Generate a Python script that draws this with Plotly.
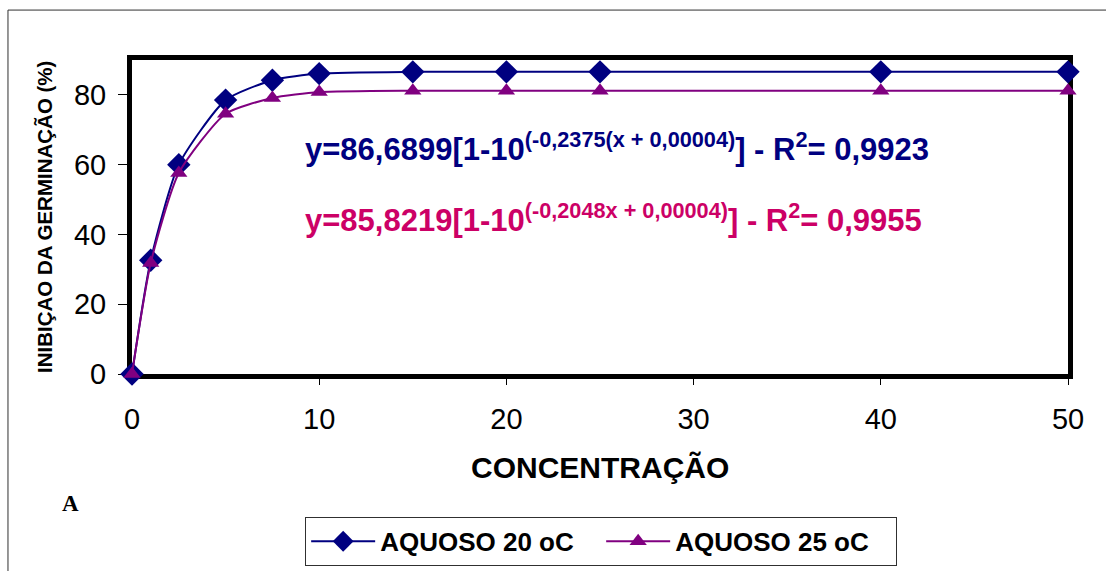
import plotly.graph_objects as go

# Concentration levels and germination inhibition (%) for the aqueous extract
concentracao = [0, 1, 2.5, 5, 7.5, 10, 15, 20, 25, 40, 50]
aquoso_20 = [0, 32.6, 60.0, 78.5, 84.2, 86.1, 86.6, 86.6, 86.6, 86.6, 86.6]
aquoso_25 = [0, 31.8, 57.6, 74.6, 79.1, 80.8, 81.2, 81.2, 81.2, 81.2, 81.2]

x_ticks = [0, 10, 20, 30, 40, 50]
y_ticks = [0, 20, 40, 60, 80]

BLUE = "#000080"
PURPLE = "#800080"
MAGENTA = "#CC0066"
FONT = "Liberation Sans"

fig = go.Figure()
fig.add_trace(go.Scatter(
    x=concentracao, y=aquoso_20, name="AQUOSO 20 oC", cliponaxis=False,
    mode="lines+markers", line=dict(color=BLUE, width=2, shape="spline", smoothing=0.6),
    marker=dict(symbol="diamond", size=18, color=BLUE),
))
fig.add_trace(go.Scatter(
    x=concentracao, y=aquoso_25, name="AQUOSO 25 oC", cliponaxis=False,
    mode="lines+markers", line=dict(color=PURPLE, width=2, shape="spline", smoothing=0.6),
    marker=dict(symbol="triangle-up", size=15, color=PURPLE),
))

axis_common = dict(
    showgrid=False, zeroline=False, showline=True, linecolor="black", linewidth=5,
    mirror=True, ticks="outside", tickcolor="black", tickwidth=1, layer="below traces",
    automargin=False, tickfont=dict(family=FONT, size=29, color="black"),
)
fig.update_xaxes(range=[0, 50], tickvals=x_ticks, ticklen=6, ticklabelstandoff=9, **axis_common)
fig.update_yaxes(range=[0, 90], tickvals=y_ticks, ticklen=9, ticklabelstandoff=6, **axis_common)

annotations = [
    dict(text="y=86,6899[1-10<sup>(-0,2375(x + 0,00004)</sup>] - R<sup>2</sup>= 0,9923",
         x=0.183, y=0.723, xref="paper", yref="paper", xanchor="left", yanchor="middle",
         showarrow=False, font=dict(family=FONT, size=31, color=BLUE, weight="bold")),
    dict(text="y=85,8219[1-10<sup>(-0,2048x + 0,00004)</sup>] - R<sup>2</sup>= 0,9955",
         x=0.183, y=0.497, xref="paper", yref="paper", xanchor="left", yanchor="middle",
         showarrow=False, font=dict(family=FONT, size=31, color=MAGENTA, weight="bold")),
    dict(text="INIBIÇAO DA GERMINAÇÃO (%)", x=-0.094, y=0.5, xref="paper", yref="paper",
         textangle=-90, showarrow=False, xanchor="center", yanchor="middle",
         font=dict(family=FONT, size=20.5, color="black", weight="bold")),
    dict(text="CONCENTRAÇÃO", x=0.5, y=-0.297, xref="paper", yref="paper",
         showarrow=False, xanchor="center", yanchor="middle",
         font=dict(family=FONT, size=30, color="black", weight="bold")),
    dict(text="A", x=-0.066, y=-0.412, xref="paper", yref="paper",
         showarrow=False, xanchor="center", yanchor="middle",
         font=dict(family="Liberation Serif", size=23, color="black", weight="bold")),
]

# Outer frame of the chart area
shapes = [dict(type="rect", xref="paper", yref="paper", x0=-0.1325, y0=-0.7, x1=1.06, y1=1.159,
               line=dict(color="#303030", width=1), layer="below")]

fig.update_layout(
    width=1106, height=571,
    margin=dict(l=132, r=38, t=60, b=197, autoexpand=False),
    paper_bgcolor="white", plot_bgcolor="white",
    showlegend=True,
    legend=dict(orientation="h", x=0.185, y=-0.611, xanchor="left", yanchor="bottom",
                bordercolor="#303030", borderwidth=1, bgcolor="white",
                font=dict(family=FONT, size=26, color="black", weight="bold"),
                itemwidth=64, entrywidth=216, tracegroupgap=0),
    annotations=annotations, shapes=shapes,
)

fig.write_html("out.html")
